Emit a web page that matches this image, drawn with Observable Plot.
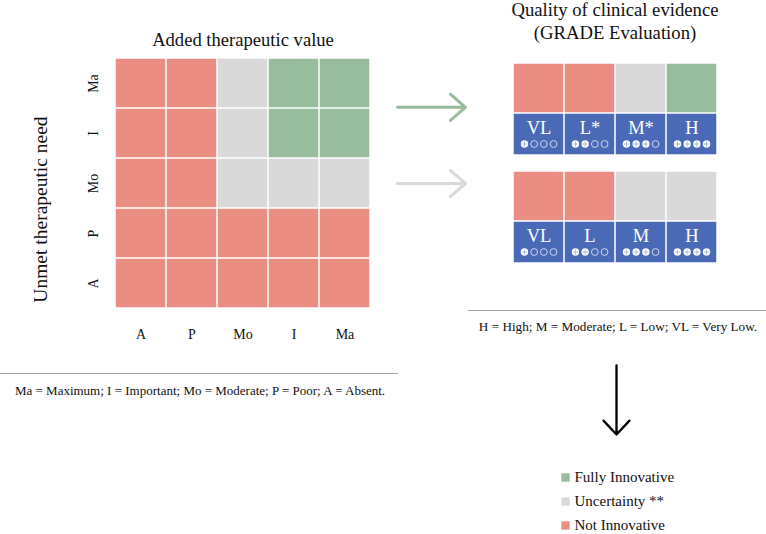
<!DOCTYPE html>
<html><head><meta charset="utf-8">
<script src="https://cdn.jsdelivr.net/npm/d3@7"></script>
<script src="https://cdn.jsdelivr.net/npm/@observablehq/plot@0.6"></script>
<style>
body{margin:0;background:#fff;}
#root{position:relative;width:766px;height:534px;font-family:"Liberation Serif","Times New Roman",serif;overflow:hidden;background:#fff;color:#111}
#root > *{position:absolute}
.t{white-space:nowrap;text-align:center}
</style></head><body><div id="root"></div>
<script>
// ---- data ----
const addedValue = ["A", "P", "Mo", "I", "Ma"];          // columns (x)
const unmetNeed = ["Ma", "I", "Mo", "P", "A"];           // rows (y), top to bottom
// F = Fully Innovative, U = Uncertainty, N = Not Innovative
const heatRows = [
  ["N", "N", "U", "F", "F"],   // Ma
  ["N", "N", "U", "F", "F"],   // I
  ["N", "N", "U", "U", "U"],   // Mo
  ["N", "N", "N", "N", "N"],   // P
  ["N", "N", "N", "N", "N"]    // A
];
const gradeLevels = ["VL", "L", "M", "H"];
const gradeDots = [1, 2, 3, 4];
const panelGreenLabels = ["VL", "L*", "M*", "H"];
const panelGreenOutcome = ["N", "N", "U", "F"];
const panelGrayLabels = ["VL", "L", "M", "H"];
const panelGrayOutcome = ["N", "N", "U", "U"];
const outcomeKeys = ["F", "U", "N"];
const outcomeNames = ["Fully Innovative", "Uncertainty **", "Not Innovative"];
const outcomeColors = ["#97bd9c", "#d9d9d9", "#ea8e84"];
const arrowSources = [{rows: ["Ma", "I"], key: "F"}, {rows: ["Mo"], key: "U"}];
const gradeBlue = "#4a6ab8";

const root = document.getElementById("root");
const font = "'Liberation Serif', 'Times New Roman', serif";
const colorScale = {type: "ordinal", domain: outcomeKeys, range: outcomeColors};
function place(el, left, top) { el.style.left = left + "px"; el.style.top = top + "px"; root.appendChild(el); return el; }
function htmlText(txt, cx, cy, size, w = 320) {
  const d = document.createElement("div");
  d.className = "t"; d.textContent = txt;
  d.style.fontSize = size + "px"; d.style.lineHeight = "20px"; d.style.width = w + "px";
  return place(d, cx - w / 2, cy - 10);
}
function rule(x1, x2, y) {
  const d = document.createElement("div");
  d.style.width = (x2 - x1) + "px"; d.style.height = "1.5px"; d.style.background = "#a3a3a3";
  return place(d, x1, y);
}

// ---- heatmap ----
const heatData = heatRows.flatMap((row, i) => row.map((k, j) => ({need: unmetNeed[i], value: addedValue[j], key: k})));
const heat = Plot.plot({
  width: 400, height: 350, marginLeft: 115, marginRight: 30, marginTop: 56, marginBottom: 40,
  style: {fontFamily: font, background: "transparent", color: "#111"},
  x: {domain: addedValue, padding: 0},
  y: {domain: unmetNeed, padding: 0, axis: null},
  color: colorScale,
  marks: [
    Plot.cell(heatData, {x: "value", y: "need", fill: "key", inset: 0.75}),
    Plot.axisX({anchor: "bottom", tickSize: 0, tickPadding: 19, fontSize: 14, label: null, fontFamily: font}),
    Plot.text(unmetNeed, {y: d => d, text: d => d, frameAnchor: "left", textAnchor: "middle", dx: -22, rotate: -90, fontSize: 14, fill: "#111", fontFamily: font}),
    Plot.text(["Unmet therapeutic need"], {text: d => d, frameAnchor: "left", textAnchor: "middle", dx: -75, dy: 26, rotate: -90, fontSize: 19.5, fill: "#111", fontFamily: font}),
    Plot.text(["Added therapeutic value"], {text: d => d, frameAnchor: "top", dy: -24, fontSize: 18.6, fill: "#111", fontFamily: font})
  ]
});
place(heat, 0, 0);

// ---- arrows from heatmap rows to GRADE panels ----
const arrowData = arrowSources.map(a => ({...a, y: d3.mean(a.rows, r => unmetNeed.indexOf(r) + 0.5)}));
const arrows = Plot.plot({
  width: 85, height: 350, marginLeft: 7, marginRight: 10, marginTop: 56, marginBottom: 40,
  style: {background: "transparent"},
  x: {domain: [0, 1], axis: null},
  y: {domain: [unmetNeed.length, 0], axis: null},
  color: colorScale,
  marks: [
    Plot.arrow(arrowData, {x1: 0, x2: 1, y1: "y", y2: "y", stroke: "key", strokeWidth: 3, headAngle: 82, headLength: 10})
  ]
});
place(arrows, 390, 0);

// ---- GRADE panels ----
function panel(top, labels, outcomes) {
  const data = gradeLevels.map((g, i) => ({g, label: labels[i], key: outcomes[i], dots: gradeDots[i]}));
  const colorRow = Plot.plot({
    width: 206, height: 52, margin: 1,
    style: {background: "transparent"},
    x: {domain: gradeLevels, padding: 0, axis: null},
    color: colorScale,
    marks: [Plot.cell(data, {x: "g", fill: "key", inset: 0.75})]
  });
  place(colorRow, 512, top);
  const dotMarks = [];
  for (let k = 0; k < 4; k++) {
    const dx = (k - 1.5) * 9.7;
    dotMarks.push(
      Plot.dot(data, {x: "g", filter: d => d.dots > k, dx, dy: 9.5, r: 3.7, fill: "white", stroke: "none"}),
      Plot.dot(data, {x: "g", filter: d => d.dots > k, dx, dy: 9.5, r: 1.9, symbol: "plus", stroke: "#8fa3d4", strokeWidth: 0.7}),
      Plot.dot(data, {x: "g", filter: d => d.dots <= k, dx, dy: 9.5, r: 3.4, fill: "none", stroke: "#dde3f2", strokeWidth: 0.9})
    );
  }
  const gradeRow = Plot.plot({
    width: 206, height: 44, margin: 1,
    style: {fontFamily: font, background: "transparent"},
    x: {domain: gradeLevels, padding: 0, axis: null},
    marks: [
      Plot.cell(data, {x: "g", fill: gradeBlue, inset: 0.75}),
      Plot.text(data, {x: "g", text: "label", dy: -6, fontSize: 18.5, fill: "white", fontFamily: font}),
      ...dotMarks
    ]
  });
  place(gradeRow, 512, top + 50);
}
panel(62, panelGreenLabels, panelGreenOutcome);
panel(170, panelGrayLabels, panelGrayOutcome);

// ---- titles, rules and captions ----
htmlText("Quality of clinical evidence", 615, 10, 18.7);
htmlText("(GRADE Evaluation)", 615, 33, 18.7);
rule(0, 398, 372.5);
htmlText("Ma = Maximum; I = Important; Mo = Moderate; P = Poor; A = Absent.", 200, 391, 13, 420);
rule(468, 766, 309.5);
htmlText("H = High; M = Moderate; L = Low; VL = Very Low.", 618, 327, 13.2, 320);

// ---- down arrow ----
const down = Plot.plot({
  width: 52, height: 90, marginTop: 10, marginBottom: 11, marginLeft: 0, marginRight: 0,
  style: {background: "transparent"},
  x: {type: "point", domain: ["flow"], axis: null},
  y: {type: "point", domain: ["evidence", "outcome"], padding: 0, axis: null},
  marks: [
    Plot.arrow([{lane: "flow", from: "evidence", to: "outcome"}], {x1: "lane", x2: "lane", y1: "from", y2: "to", stroke: "#000", strokeWidth: 2.3, headAngle: 86, headLength: 12.4})
  ]
});
place(down, 590, 355);

// ---- legend ----
const legendData = outcomeKeys.map((k, i) => ({key: k, name: outcomeNames[i]}));
const legend = Plot.plot({
  width: 211, height: 69, marginTop: 11, marginBottom: 9, marginLeft: 0, marginRight: 0,
  style: {fontFamily: font, background: "transparent"},
  y: {type: "point", domain: outcomeNames, padding: 0, axis: null},
  color: colorScale,
  marks: [
    Plot.dot(legendData, {y: "name", frameAnchor: "left", dx: 10, symbol: "square", r: 4.7, fill: "key"}),
    Plot.text(legendData, {y: "name", text: "name", frameAnchor: "left", dx: 19, textAnchor: "start", fontSize: 15, fill: "#111", fontFamily: font})
  ]
});
place(legend, 555, 465);
</script></body></html>
